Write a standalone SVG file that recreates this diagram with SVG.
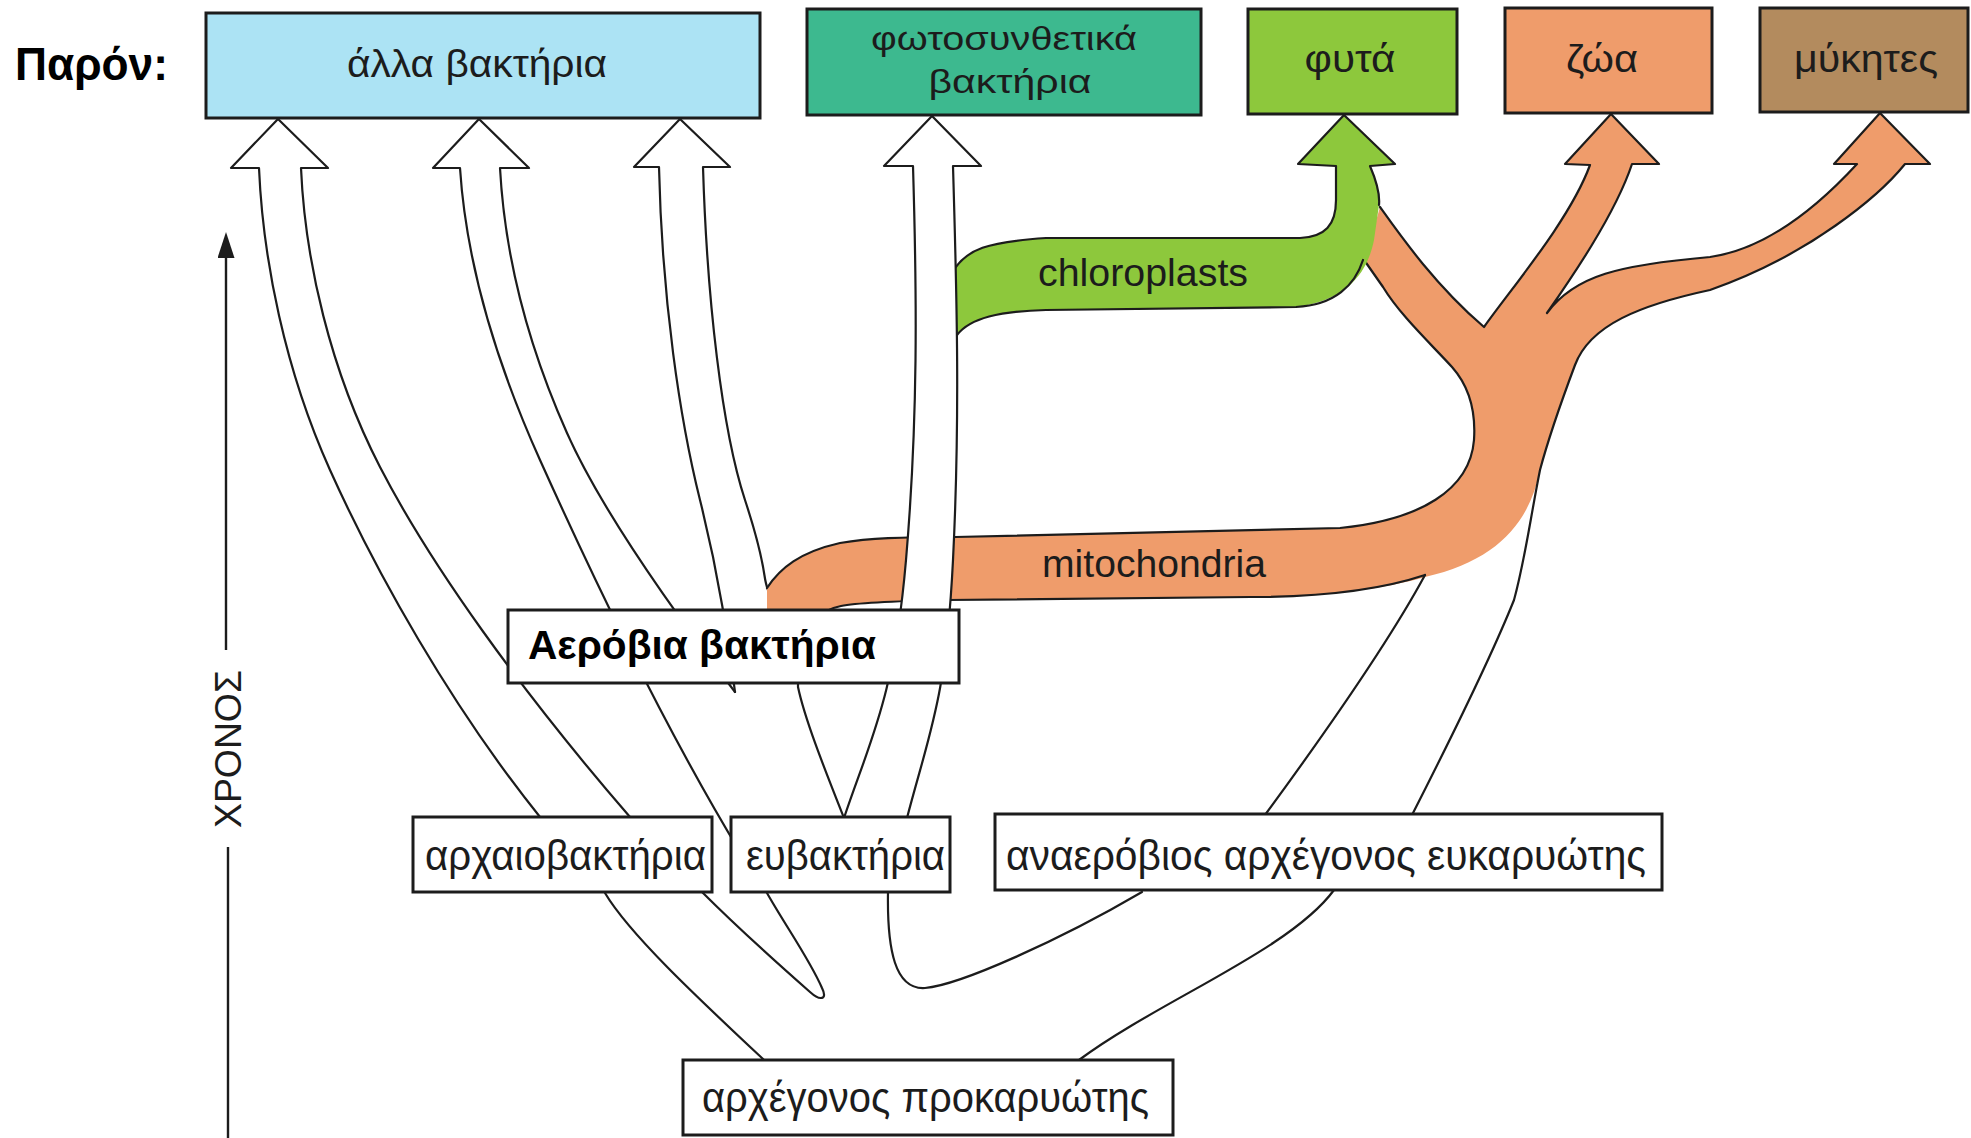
<svg xmlns="http://www.w3.org/2000/svg" width="1971" height="1138" viewBox="0 0 1971 1138">
  <defs>
    <style>
      .box{stroke:#1c1c1c;stroke-width:3}
      .lbl{font-family:"Liberation Sans",Arial,sans-serif;fill:#1c1c1c;text-anchor:middle}
      .bold{font-family:"Liberation Sans",Arial,sans-serif;font-weight:bold;fill:#000}
      .ln{fill:none;stroke:#1c1c1c;stroke-width:2.2;stroke-linejoin:round;stroke-linecap:round}
      .orange{fill:#EF9C6B}
      .green{fill:#8DC83C}
    </style>
    <marker id="axisHead" viewBox="0 0 26 17" markerWidth="26" markerHeight="17" refX="4" refY="8.5" orient="auto" markerUnits="userSpaceOnUse">
      <path d="M0,0 L26,8.5 L0,17 Z" fill="#1c1c1c"/>
    </marker>
  </defs>

  <rect width="1971" height="1138" fill="#fff"/>

  <!-- present-day marker -->
  <text id="present" class="bold" x="15" y="80" font-size="46" textLength="153" lengthAdjust="spacingAndGlyphs">Παρόν:</text>

  <!-- time axis -->
  <g id="time-axis">
    <line x1="226" y1="650" x2="226" y2="254" stroke="#1c1c1c" stroke-width="2.4" marker-end="url(#axisHead)"/>
    <line x1="228" y1="847" x2="228" y2="1138" stroke="#1c1c1c" stroke-width="2.4"/>
    <text class="lbl" transform="translate(241,749) rotate(-90)" font-size="37" textLength="158" lengthAdjust="spacingAndGlyphs">ΧΡΟΝΟΣ</text>
  </g>

  <g id="connectors">
    <!-- hollow lineage arrows into "other bacteria" -->
    <path class="ln" d="M540,817 C450,705 375,570 330,470 C285,370 263,260 259,168 L231,168 L278,119 L328,168 L301,168 C305,260 330,370 380,467 C430,564 520,690 630,817"/>
    <path class="ln" d="M740,852 C660,720 585,560 540,460 C495,360 466,260 460,168 L433,168 L479,119 L529,168 L500,168 C505,260 530,350 567,433 C604,516 680,620 735,692"/>
    <path class="ln" d="M735,692 C728,640 720,580 700,500 C680,420 662,300 659,167 L634,167 L680,119 L730,167 L703,167 C707,300 722,430 745,500 C768,570 762,575 768,590"/>

    <!-- lower branches -->
    <path class="ln" d="M605,893 C630,935 700,1000 764,1060"/>
    <path class="ln" d="M702,892 C740,930 785,970 810,992 C820,1001 828,1000 822,988 C810,960 785,925 767,893"/>
    <path class="ln" d="M888,892 C887,950 895,990 925,988 C960,985 1060,940 1142,892"/>
    <path class="ln" d="M1334,890 C1290,950 1160,1000 1079,1060"/>
    <path class="ln" d="M798,640 L798,687 C805,720 825,770 844,818"/>

    <!-- mitochondria / eukaryote trunk (orange) -->
    <path class="orange" d="M767,588 C780,568 800,552 840,543 C870,538 900,537 955,537 L1340,528 C1420,520 1470,490 1474,440 C1476,410 1468,385 1452,367 C1430,343 1400,315 1383,287 L1362,257 L1372,235 L1380,207 C1400,235 1435,285 1484,327 C1510,290 1570,220 1590,165 L1565,164 L1611,114 L1659,164 L1632,164 C1615,215 1570,280 1547,313 C1575,275 1620,265 1710,257 C1760,250 1810,215 1857,164 L1834,164 L1880,113 L1930,164 L1905,164 C1880,195 1810,255 1710,290 C1640,305 1590,325 1575,365 C1560,405 1548,440 1540,470 C1530,520 1500,560 1425,577 C1380,590 1320,597 1251,597 L947,600 C900,601 860,602 841,606 C820,612 805,625 800,660 L767,660 Z"/>
    <path class="ln" d="M767,588 C780,568 800,552 840,543 C870,538 900,537 955,537 L1340,528 C1420,520 1470,490 1474,440 C1476,410 1468,385 1452,367 C1430,343 1400,315 1383,287 L1362,257"/>
    <path class="ln" d="M1380,207 C1400,235 1435,285 1484,327 C1510,290 1570,220 1590,165 L1565,164 L1611,114 L1659,164 L1632,164 C1615,215 1570,280 1547,313 C1575,275 1620,265 1710,257 C1760,250 1810,215 1857,164 L1834,164 L1880,113 L1930,164 L1905,164 C1880,195 1810,255 1710,290 C1640,305 1590,325 1575,365 C1560,405 1548,440 1540,470 C1530,520 1525,560 1514,600 C1490,660 1440,760 1412,815"/>
    <path class="ln" d="M800,650 C805,625 820,610 841,606 C860,602 900,601 947,600 L1251,597 C1320,597 1380,590 1425,575"/>
    <path class="ln" d="M1265,815 C1320,740 1390,640 1425,575"/>

    <!-- chloroplast band into plants (green) -->
    <path class="green" d="M955,268 C968,250 985,242 1046,238 L1300,238 C1325,237 1336,225 1336,200 L1336,166 L1298,164 L1344,115 L1395,164 L1370,166 C1376,180 1380,195 1379,205 L1374,240 C1368,270 1350,300 1296,307 L1046,310 C1000,311 970,318 957,335 Z"/>
    <path class="ln" d="M955,268 C968,250 985,242 1046,238 L1300,238 C1325,237 1336,225 1336,200 L1336,166 L1298,164 L1344,115 L1395,164 L1370,166 C1376,180 1380,195 1379,205"/>
    <path class="ln" d="M1363,260 C1355,285 1335,305 1296,307 L1046,310 C1000,311 970,318 957,335"/>

    <!-- photosynthetic bacteria lineage (white band over the orange) -->
    <path fill="#fff" d="M913,166 C917,300 918,420 906,560 C894,700 870,740 844,818 L907,818 C930,730 946,700 953,560 C960,420 957,300 953,166 Z"/>
    <path class="ln" d="M844,818 C870,740 894,700 906,560 C918,420 917,300 913,166 L884,166 L932,116 L981,166 L953,166 C957,300 960,420 953,560 C946,700 930,730 907,818"/>
  </g>

  <!-- present-day groups -->
  <g id="other-bacteria">
    <rect class="box" x="206" y="13" width="554" height="105" fill="#ACE3F4"/>
    <text class="lbl" x="477" y="77" font-size="38" textLength="260" lengthAdjust="spacingAndGlyphs">άλλα βακτήρια</text>
  </g>
  <g id="photosynthetic-bacteria">
    <rect class="box" x="807" y="9" width="394" height="106" fill="#3DB98F"/>
    <text class="lbl" x="1004" y="50" font-size="34" textLength="266" lengthAdjust="spacingAndGlyphs">φωτοσυνθετικά</text>
    <text class="lbl" x="1010" y="93" font-size="34" textLength="163" lengthAdjust="spacingAndGlyphs">βακτήρια</text>
  </g>
  <g id="plants">
    <rect class="box" x="1248" y="9" width="209" height="105" fill="#8DC83C"/>
    <text class="lbl" x="1350" y="72" font-size="38" textLength="91" lengthAdjust="spacingAndGlyphs">φυτά</text>
  </g>
  <g id="animals">
    <rect class="box" x="1505" y="8" width="207" height="105" fill="#EF9C6B"/>
    <text class="lbl" x="1602" y="72" font-size="38" textLength="72" lengthAdjust="spacingAndGlyphs">ζώα</text>
  </g>
  <g id="fungi">
    <rect class="box" x="1760" y="8" width="208" height="104" fill="#B38B5E"/>
    <text class="lbl" x="1866" y="72" font-size="38" textLength="144" lengthAdjust="spacingAndGlyphs">μύκητες</text>
  </g>

  <!-- ancestral groups -->
  <g id="aerobic-bacteria">
    <rect class="box" x="508" y="610" width="451" height="73" fill="#fff"/>
    <text class="bold" x="528" y="659" font-size="41" textLength="348" lengthAdjust="spacingAndGlyphs">Αερόβια βακτήρια</text>
  </g>
  <g id="archaebacteria">
    <rect class="box" x="413" y="817" width="299" height="75" fill="#fff"/>
    <text class="lbl" x="565.5" y="870" font-size="42" textLength="281" lengthAdjust="spacingAndGlyphs">αρχαιοβακτήρια</text>
  </g>
  <g id="eubacteria">
    <rect class="box" x="731" y="817" width="219" height="75" fill="#fff"/>
    <text class="lbl" x="845.5" y="870" font-size="42" textLength="199" lengthAdjust="spacingAndGlyphs">ευβακτήρια</text>
  </g>
  <g id="anaerobic-eukaryote">
    <rect class="box" x="995" y="814" width="667" height="76" fill="#fff"/>
    <text class="lbl" x="1326" y="870" font-size="42" textLength="640" lengthAdjust="spacingAndGlyphs">αναερόβιος αρχέγονος ευκαρυώτης</text>
  </g>
  <g id="ancestral-prokaryote">
    <rect class="box" x="683" y="1060" width="490" height="75" fill="#fff"/>
    <text class="lbl" x="925.5" y="1112" font-size="42" textLength="447" lengthAdjust="spacingAndGlyphs">αρχέγονος προκαρυώτης</text>
  </g>

  <!-- band labels -->
  <text id="chloroplasts-label" class="lbl" x="1143" y="286" font-size="38" textLength="210" lengthAdjust="spacingAndGlyphs">chloroplasts</text>
  <text id="mitochondria-label" class="lbl" x="1154" y="577" font-size="38" textLength="224" lengthAdjust="spacingAndGlyphs">mitochondria</text>
</svg>
